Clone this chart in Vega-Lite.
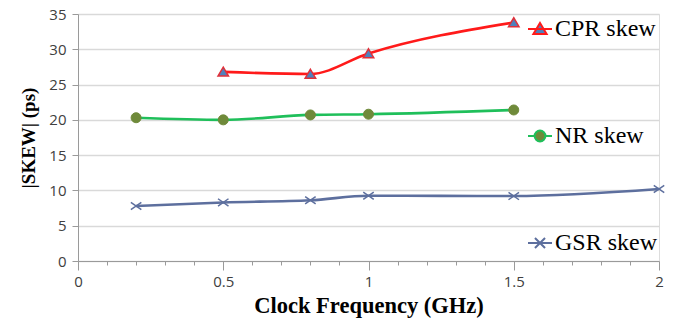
{
  "$schema": "https://vega.github.io/schema/vega-lite/v6.json",
  "width": 581,
  "height": 247,
  "autosize": {"type": "none"},
  "padding": {"left": 78, "top": 14, "right": 28, "bottom": 57},
  "background": "white",
  "data": {
    "values": [
      {"series": "CPR skew", "freq": 0.5, "skew": 26.8},
      {"series": "CPR skew", "freq": 0.8, "skew": 26.5},
      {"series": "CPR skew", "freq": 1.0, "skew": 29.4},
      {"series": "CPR skew", "freq": 1.5, "skew": 33.8},
      {"series": "NR skew", "freq": 0.2, "skew": 20.3},
      {"series": "NR skew", "freq": 0.5, "skew": 20.0},
      {"series": "NR skew", "freq": 0.8, "skew": 20.7},
      {"series": "NR skew", "freq": 1.0, "skew": 20.8},
      {"series": "NR skew", "freq": 1.5, "skew": 21.4},
      {"series": "GSR skew", "freq": 0.2, "skew": 7.8},
      {"series": "GSR skew", "freq": 0.5, "skew": 8.3},
      {"series": "GSR skew", "freq": 0.8, "skew": 8.6},
      {"series": "GSR skew", "freq": 1.0, "skew": 9.25},
      {"series": "GSR skew", "freq": 1.5, "skew": 9.2},
      {"series": "GSR skew", "freq": 2.0, "skew": 10.2}
    ]
  },
  "encoding": {
    "x": {
      "field": "freq",
      "type": "quantitative",
      "scale": {"domain": [0, 2], "nice": false},
      "axis": {
        "title": "Clock Frequency (GHz)",
        "titleFont": "Liberation Serif",
        "titleFontSize": 22.5,
        "titleFontWeight": "bold",
        "titleColor": "#000000",
        "titlePadding": 5,
        "values": [0, 0.1, 0.2, 0.3, 0.4, 0.5, 0.6, 0.7, 0.8, 0.9, 1, 1.1, 1.2, 1.3, 1.4, 1.5, 1.6, 1.7, 1.8, 1.9, 2],
        "labelExpr": "abs(datum.value*2 - round(datum.value*2)) < 0.001 ? '' + (round(datum.value*2)/2) : ''",
        "labelOverlap": false,
        "labelFont": "Open Sans",
        "labelFontSize": 15,
        "labelColor": "#404040",
        "labelPadding": 4,
        "labelFlush": false,
        "grid": false,
        "domainColor": "#9a9a9a",
        "domainWidth": 1,
        "tickColor": "#9a9a9a",
        "tickSize": {"condition": {"test": "abs(datum.value*2 - round(datum.value*2)) < 0.001", "value": 9}, "value": 4}
      }
    },
    "y": {
      "field": "skew",
      "type": "quantitative",
      "scale": {"domain": [0, 35], "nice": false},
      "axis": {
        "title": "|SKEW| (ps)",
        "titleFont": "Liberation Serif",
        "titleFontSize": 19,
        "titleFontWeight": "bold",
        "titleColor": "#000000",
        "titlePadding": 10,
        "values": [0, 5, 10, 15, 20, 25, 30, 35],
        "labelFont": "Open Sans",
        "labelFontSize": 15,
        "labelColor": "#404040",
        "labelPadding": 6,
        "tickSize": 6,
        "tickColor": "#9a9a9a",
        "domainColor": "#9a9a9a",
        "gridColor": "#d9d9d9",
        "gridWidth": 1.5
      }
    }
  },
  "layer": [
    {
      "mark": {"type": "line", "interpolate": "monotone", "strokeWidth": 2.6},
      "encoding": {
        "color": {
          "field": "series",
          "type": "nominal",
          "scale": {"domain": ["CPR skew", "NR skew", "GSR skew"], "range": ["#ff1a1a", "#1fbf5a", "#5d6f9e"]},
          "legend": {
            "title": null,
            "orient": "none",
            "legendX": 449,
            "legendY": 2,
            "padding": 0,
            "rowPadding": 82,
            "symbolSize": 576,
            "symbolStrokeWidth": 2,
            "labelFont": "Liberation Serif",
            "labelFontSize": 24,
            "labelColor": "#000000",
            "labelOffset": 2,
            "encode": {
              "symbols": {
                "update": {
                  "shape": {"signal": "datum.value === 'CPR skew' ? 'M-1,0H1M0,-0.5L0.55,0.42L-0.55,0.42Z' : datum.value === 'NR skew' ? 'M-1,0H-0.45M0.45,0H1M0.45,0A0.45,0.45,0,1,1,-0.45,0A0.45,0.45,0,1,1,0.45,0Z' : 'M-1,0H1M-0.42,-0.42L0.42,0.42M-0.42,0.42L0.42,-0.42'"},
                  "fill": {"signal": "datum.value === 'CPR skew' ? '#4f81bd' : datum.value === 'NR skew' ? '#6f8a3a' : 'transparent'"},
                  "fillOpacity": {"value": 1}
                }
              }
            }
          }
        }
      }
    },
    {
      "transform": [{"filter": "datum.series === 'CPR skew'"}],
      "mark": {"type": "point", "shape": "M0,-0.9L1,0.8L-1,0.8Z", "filled": true, "fill": "#4f81bd", "stroke": "#e0303a", "strokeWidth": 1.5, "size": 110, "opacity": 1}
    },
    {
      "transform": [{"filter": "datum.series === 'NR skew'"}],
      "mark": {"type": "point", "shape": "circle", "filled": true, "fill": "#6f8a3a", "stroke": "#6f8a3a", "strokeWidth": 1, "size": 100, "opacity": 1}
    },
    {
      "transform": [{"filter": "datum.series === 'GSR skew'"}],
      "mark": {"type": "point", "shape": "M-1,-0.7L1,0.7M-1,0.7L1,-0.7", "filled": false, "stroke": "#5d6f9e", "strokeWidth": 1.5, "size": 110, "opacity": 1}
    }
  ]
}
